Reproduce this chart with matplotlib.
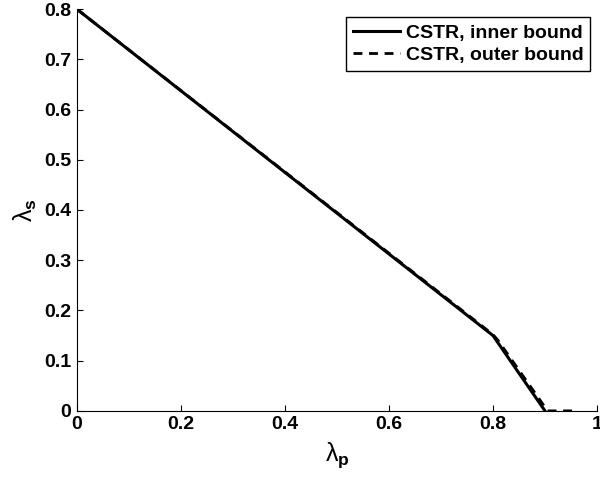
import matplotlib
matplotlib.use('Agg')
import matplotlib.pyplot as plt

# inner bound (solid)
inner_p = [0.0, 0.8, 0.9]
inner_s = [0.8, 0.15, 0.0]

# outer bound (dashed)
outer_p = [0.0, 0.8, 0.81, 0.905, 0.96]
outer_s = [0.8, 0.152, 0.14, 0.0, 0.0]

xticks = [0, 0.2, 0.4, 0.6, 0.8, 1]
xticklabels = ['0', '0.2', '0.4', '0.6', '0.8', '1']
yticks = [0, 0.1, 0.2, 0.3, 0.4, 0.5, 0.6, 0.7, 0.8]
yticklabels = ['0', '0.1', '0.2', '0.3', '0.4', '0.5', '0.6', '0.7', '0.8']

plt.rcParams['font.family'] = ['Liberation Sans', 'DejaVu Sans']
plt.rcParams['mathtext.fontset'] = 'custom'
plt.rcParams['mathtext.bf'] = 'Liberation Sans:bold'
plt.rcParams['mathtext.rm'] = 'Liberation Sans'

fig = plt.figure(figsize=(6, 4.8), dpi=100)
ax = fig.add_axes([0.128, 0.144, 0.867, 0.837])

ax.plot(inner_p, inner_s, color='black', lw=2.2, label='CSTR, inner bound')
ax.plot(outer_p, outer_s, color='black', lw=2.0, ls=(0, (3.2, 2.4)),
        label='CSTR, outer bound')

ax.set_xlim(0, 1)
ax.set_ylim(0, 0.8)
ax.set_xticks(xticks)
ax.set_xticklabels(xticklabels, fontsize=14, fontweight='bold')
ax.set_yticks(yticks)
ax.set_yticklabels(yticklabels, fontsize=14, fontweight='bold')
ax.tick_params(direction='in', length=4, width=0.8, pad=4)

for side in ['top', 'right']:
    ax.spines[side].set_visible(False)
for side in ['left', 'bottom']:
    ax.spines[side].set_linewidth(0.8)

ax.set_xlabel(r'λ$_{\mathbf{p}}$', fontsize=18, labelpad=5)
ax.set_ylabel(r'λ$_{\mathbf{s}}$', fontsize=18, labelpad=4)

leg = ax.legend(loc='upper right', bbox_to_anchor=(0.987, 0.98), fancybox=False,
                edgecolor='black', framealpha=1, handlelength=2.4,
                handletextpad=0.3, borderpad=0.35, labelspacing=0.25,
                borderaxespad=0.0, prop={'weight': 'bold', 'size': 14})
leg.get_frame().set_linewidth(1.0)

fig.savefig('out.png', dpi=100)
